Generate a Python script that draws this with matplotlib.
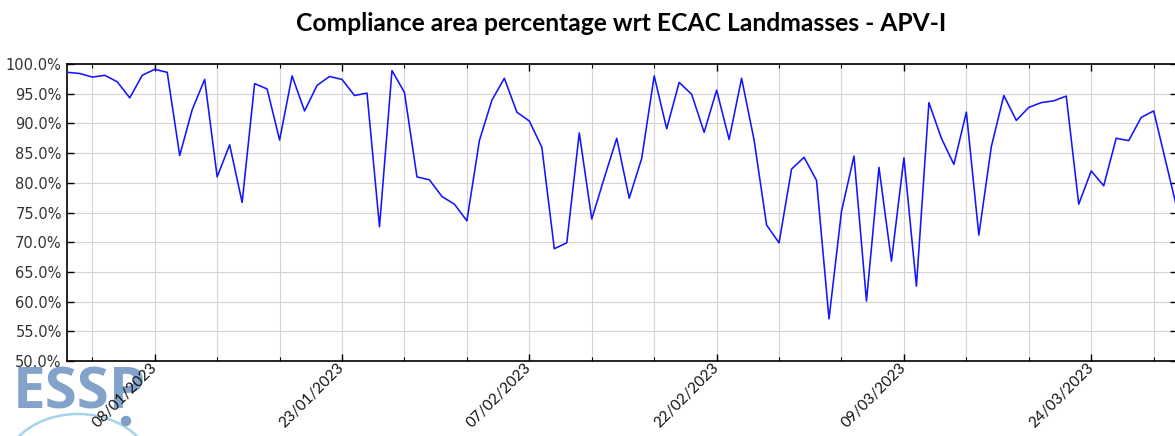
import numpy as np
import pandas as pd
import matplotlib
matplotlib.use("Agg")
import matplotlib.pyplot as plt
import matplotlib.dates as mdates
from matplotlib.ticker import MultipleLocator, FuncFormatter
from matplotlib.patches import Arc, Circle

# daily compliance values (%), starting 01/01/2023
start_date = "2023-01-01"
compliance = [
    98.6, 98.4, 97.8, 98.1, 97.0, 94.3, 98.1, 99.1, 98.6, 84.6,
    92.3, 97.4, 81.0, 86.4, 76.7, 96.7, 95.8, 87.2, 98.0, 92.1,
    96.4, 97.9, 97.4, 94.7, 95.1, 72.6, 98.9, 95.2, 81.0, 80.5,
    77.7, 76.4, 73.6, 87.1, 93.9, 97.6, 91.9, 90.4, 86.0, 68.9,
    69.9, 88.4, 73.9, 80.8, 87.5, 77.4, 84.1, 98.0, 89.1, 96.9,
    94.9, 88.5, 95.6, 87.3, 97.6, 87.2, 72.9, 69.9, 82.3, 84.3,
    80.4, 57.1, 75.2, 84.5, 60.1, 82.6, 66.8, 84.2, 62.6, 93.5,
    87.5, 83.1, 91.9, 71.2, 86.1, 94.7, 90.5, 92.7, 93.5, 93.8,
    94.6, 76.4, 82.0, 79.5, 87.5, 87.1, 91.0, 92.1, 83.3, 74.5,
]
dates = pd.date_range(start_date, periods=len(compliance), freq="D")

title = "Compliance area percentage wrt ECAC Landmasses - APV-I"

fig = plt.figure(figsize=(11.75, 4.36), dpi=100)

# ESSP watermark logo (drawn underneath the chart texts)
logo = fig.add_axes([0, 0, 1, 1], zorder=0)
logo.set_xlim(0, 1175)
logo.set_ylim(436, 0)
logo.axis("off")
logo.text(13, 408, "ESSP", fontsize=42, fontweight="bold", family="Open Sans",
          color="#7d9ec7", alpha=0.95, va="baseline", ha="left")
logo.add_patch(Arc((78, 472), 150, 116, theta1=200, theta2=340,
                   color="#a6d3e8", lw=1.8))
logo.add_patch(Circle((126, 421), 4.5, color="#7d9ec7"))

ax = fig.add_axes([0.0573, 0.172, 0.9442, 0.6812], zorder=1)

ax.plot(dates, compliance, color="#1414ff", lw=1.15, zorder=3)

x0 = mdates.date2num(pd.Timestamp(start_date))
ax.set_xlim(x0, x0 + 88.85)
ax.set_ylim(50, 100)

ax.xaxis.set_major_locator(MultipleLocator(15))
ax.xaxis.set_minor_locator(MultipleLocator(5))
ax.xaxis.set_major_formatter(mdates.DateFormatter("%d/%m/%Y"))
ax.yaxis.set_major_locator(MultipleLocator(5))
ax.yaxis.set_major_formatter(FuncFormatter(lambda v, p: f"{v:.1f}%"))

ax.grid(True, which="both", axis="x", color="#d4d4d4", lw=0.8)
ax.grid(True, which="major", axis="y", color="#d4d4d4", lw=0.8)
ax.set_axisbelow(True)

ax.tick_params(axis="both", which="both", direction="in", top=True, right=True)
ax.tick_params(axis="x", which="major", length=5, width=1.0, pad=3)
ax.tick_params(axis="x", which="minor", length=3, width=0.8)
ax.tick_params(axis="y", which="major", length=5, width=1.0, labelsize=10.5,
               labelcolor="#333333", pad=4)
for lab in ax.get_xticklabels():
    lab.set_rotation(45)
    lab.set_ha("right")
    lab.set_va("center")
    lab.set_rotation_mode("anchor")
    lab.set_fontfamily("Lato")
    lab.set_fontsize(11)
    lab.set_color("#111111")

for s in ax.spines.values():
    s.set_linewidth(1.2)

fig.text(0.529, 0.947, title, ha="center", va="center",
         fontsize=17.7, fontweight="bold", family="Lato")

fig.savefig("out.png", dpi=100)
